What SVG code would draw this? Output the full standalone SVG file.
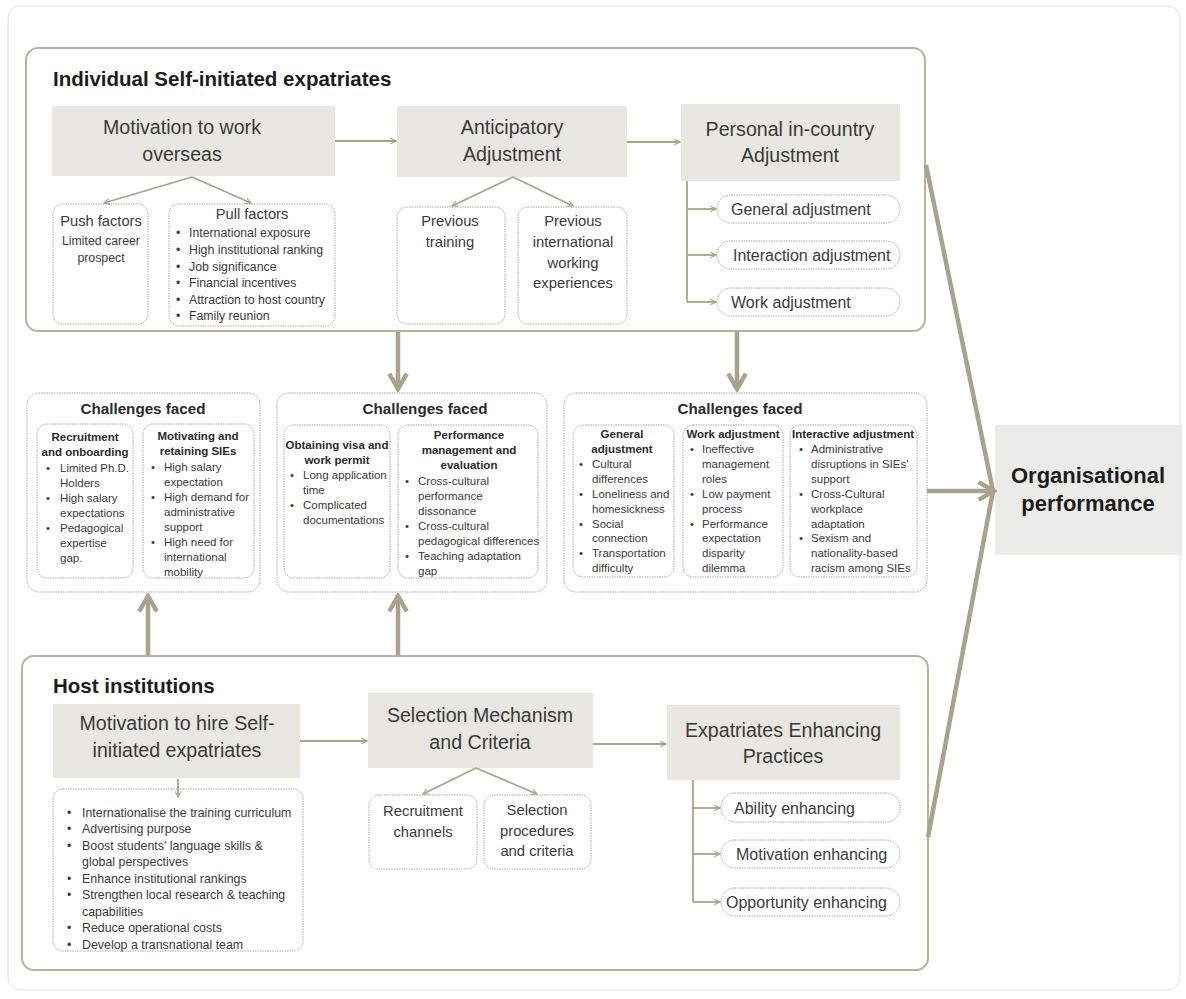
<svg xmlns="http://www.w3.org/2000/svg" width="1186" height="999" viewBox="0 0 1186 999">
<defs>
<marker id="ah" viewBox="0 0 10 10" refX="9" refY="5" markerWidth="7" markerHeight="7" orient="auto" markerUnits="userSpaceOnUse">
<path d="M1,1 L9,5 L1,9" fill="none" stroke="#a8a48c" stroke-width="1.6"/>
</marker>
<marker id="bh" viewBox="0 0 20 20" refX="17" refY="10" markerWidth="22" markerHeight="22" orient="auto" markerUnits="userSpaceOnUse">
<path d="M3,2 L17,10 L3,18" fill="none" stroke="#a8a48c" stroke-width="4" stroke-linejoin="miter"/>
</marker>
</defs>
<style>
text{font-family:"Liberation Sans",Arial,sans-serif;fill:#3a3a3a}
.ttl{font-size:20.5px;font-weight:bold;fill:#1c1c1c}
.big{font-size:19.6px;text-anchor:middle}
.gb{fill:#e8e7e1;stroke:none}
.cont{fill:#fff;stroke:#b8b49c;stroke-width:2}
.dot{fill:#fff;stroke:#a9a9a9;stroke-width:1;stroke-dasharray:1.5 1}
.sm{font-size:14.8px;text-anchor:middle}
.li{font-size:11.5px}
.li2{font-size:12.3px}
.bl{font-size:11.5px;font-weight:bold;text-anchor:middle;fill:#2a2a2a}
.ch{font-size:15.2px;font-weight:bold;text-anchor:middle;fill:#2a2a2a}
.pill{font-size:16px}
.c{fill:none;stroke:#a8a48c;stroke-width:1.8}
.t{fill:none;stroke:#a8a38a;stroke-width:4.5}
</style>
<rect x="8" y="6" width="1172" height="984" rx="12" fill="#fff" stroke="#e2e2e2" stroke-width="1"/>

<g id="top-container">
<rect class="cont" x="26" y="48" width="899" height="283" rx="12"/>
<text class="ttl" x="53" y="86">Individual Self-initiated expatriates</text>
</g>
<g id="motivation-overseas">
<rect class="gb" x="52" y="106" width="283" height="70"/>
<text class="big" x="182" y="134">Motivation to work</text>
<text class="big" x="182" y="161">overseas</text>
</g>
<g id="push">
<rect class="dot" x="53" y="204" width="95" height="120" rx="10"/>
<text x="101" y="226" style="font-size:14.7px;text-anchor:middle">Push factors</text>
<text x="101" y="245" style="font-size:12.3px;text-anchor:middle">Limited career</text>
<text x="101" y="262" style="font-size:12.3px;text-anchor:middle">prospect</text>
</g>
<g id="pull">
<rect class="dot" x="169" y="204" width="166" height="122" rx="10"/>
<text x="252" y="219" style="font-size:14.7px;text-anchor:middle">Pull factors</text>
<g class="li2">
<text x="176" y="237">•</text><text x="189" y="237">International exposure</text>
<text x="176" y="254">•</text><text x="189" y="254">High institutional ranking</text>
<text x="176" y="271">•</text><text x="189" y="271">Job significance</text>
<text x="176" y="287">•</text><text x="189" y="287">Financial incentives</text>
<text x="176" y="304">•</text><text x="189" y="304">Attraction to host country</text>
<text x="176" y="320">•</text><text x="189" y="320">Family reunion</text>
</g>
</g>
<g id="anticipatory">
<rect class="gb" x="397" y="106" width="230" height="71"/>
<text class="big" x="512" y="134">Anticipatory</text>
<text class="big" x="512" y="161">Adjustment</text>
</g>
<g id="prev-training">
<rect class="dot" x="397" y="207" width="108" height="117" rx="10"/>
<text class="sm" x="450" y="226">Previous</text>
<text class="sm" x="450" y="247">training</text>
</g>
<g id="prev-intl">
<rect class="dot" x="518" y="207" width="109" height="117" rx="10"/>
<text class="sm" x="573" y="226">Previous</text>
<text class="sm" x="573" y="247">international</text>
<text class="sm" x="573" y="268">working</text>
<text class="sm" x="573" y="288">experiences</text>
</g>
<g id="personal">
<rect class="gb" x="681" y="104" width="219" height="77"/>
<text class="big" x="790" y="136">Personal in-country</text>
<text class="big" x="790" y="162">Adjustment</text>
</g>
<g id="general-adj">
<rect class="dot" x="717" y="195" width="183" height="28" rx="14"/>
<text class="pill" x="731" y="215">General adjustment</text>
</g>
<g id="interaction-adj">
<rect class="dot" x="717" y="241" width="183" height="28" rx="14"/>
<text class="pill" x="733" y="261">Interaction adjustment</text>
</g>
<g id="work-adj">
<rect class="dot" x="717" y="288" width="183" height="28" rx="14"/>
<text class="pill" x="731" y="308">Work adjustment</text>
</g>

<g id="challenges-left">
<rect class="dot" x="27" y="393" width="233" height="199" rx="12"/>
<text class="ch" x="143" y="414">Challenges faced</text>
<rect class="dot" x="37" y="424" width="96" height="154" rx="10"/>
<text class="bl" x="85" y="441">Recruitment</text>
<text class="bl" x="85" y="456">and onboarding</text>
<g class="li">
<text x="46" y="472">•</text><text x="60" y="472">Limited Ph.D.</text>
<text x="60" y="487">Holders</text>
<text x="46" y="502">•</text><text x="60" y="502">High salary</text>
<text x="60" y="517">expectations</text>
<text x="46" y="532">•</text><text x="60" y="532">Pedagogical</text>
<text x="60" y="547">expertise</text>
<text x="60" y="562">gap.</text>
</g>
<rect class="dot" x="143" y="424" width="111" height="154" rx="10"/>
<text class="bl" x="198" y="440">Motivating and</text>
<text class="bl" x="198" y="455">retaining SIEs</text>
<g class="li">
<text x="151" y="471">•</text><text x="164" y="471">High salary</text>
<text x="164" y="486">expectation</text>
<text x="151" y="501">•</text><text x="164" y="501">High demand for</text>
<text x="164" y="516">administrative</text>
<text x="164" y="531">support</text>
<text x="151" y="546">•</text><text x="164" y="546">High need for</text>
<text x="164" y="561">international</text>
<text x="164" y="576">mobility</text>
</g>
</g>

<g id="challenges-mid">
<rect class="dot" x="277" y="393" width="270" height="199" rx="12"/>
<text class="ch" x="425" y="414">Challenges faced</text>
<rect class="dot" x="284" y="425" width="106" height="153" rx="10"/>
<text class="bl" x="337" y="449">Obtaining visa and</text>
<text class="bl" x="337" y="464">work permit</text>
<g class="li">
<text x="290" y="479">•</text><text x="303" y="479">Long application</text>
<text x="303" y="494">time</text>
<text x="290" y="509">•</text><text x="303" y="509">Complicated</text>
<text x="303" y="524">documentations</text>
</g>
<rect class="dot" x="398" y="425" width="140" height="153" rx="10"/>
<text class="bl" x="469" y="439">Performance</text>
<text class="bl" x="469" y="454">management and</text>
<text class="bl" x="469" y="469">evaluation</text>
<g class="li">
<text x="405" y="485">•</text><text x="418" y="485">Cross-cultural</text>
<text x="418" y="500">performance</text>
<text x="418" y="515">dissonance</text>
<text x="405" y="530">•</text><text x="418" y="530">Cross-cultural</text>
<text x="418" y="545">pedagogical differences</text>
<text x="405" y="560">•</text><text x="418" y="560">Teaching adaptation</text>
<text x="418" y="575">gap</text>
</g>
</g>

<g id="challenges-right">
<rect class="dot" x="564" y="393" width="363" height="199" rx="12"/>
<text class="ch" x="740" y="414">Challenges faced</text>
<rect class="dot" x="573" y="425" width="101" height="152" rx="10"/>
<text class="bl" x="622" y="438">General</text>
<text class="bl" x="622" y="453">adjustment</text>
<g class="li">
<text x="579" y="468">•</text><text x="592" y="468">Cultural</text>
<text x="592" y="483">differences</text>
<text x="579" y="498">•</text><text x="592" y="498">Loneliness and</text>
<text x="592" y="513">homesickness</text>
<text x="579" y="528">•</text><text x="592" y="528">Social</text>
<text x="592" y="542">connection</text>
<text x="579" y="557">•</text><text x="592" y="557">Transportation</text>
<text x="592" y="572">difficulty</text>
</g>
<rect class="dot" x="683" y="425" width="100" height="152" rx="10"/>
<text class="bl" x="733" y="438">Work adjustment</text>
<g class="li">
<text x="690" y="453">•</text><text x="702" y="453">Ineffective</text>
<text x="702" y="468">management</text>
<text x="702" y="483">roles</text>
<text x="690" y="498">•</text><text x="702" y="498">Low payment</text>
<text x="702" y="513">process</text>
<text x="690" y="528">•</text><text x="702" y="528">Performance</text>
<text x="702" y="542">expectation</text>
<text x="702" y="557">disparity</text>
<text x="702" y="572">dilemma</text>
</g>
<rect class="dot" x="790" y="425" width="127" height="152" rx="10"/>
<text class="bl" x="853" y="438">Interactive adjustment</text>
<g class="li">
<text x="799" y="453">•</text><text x="811" y="453">Administrative</text>
<text x="811" y="468">disruptions in SIEs'</text>
<text x="811" y="483">support</text>
<text x="799" y="498">•</text><text x="811" y="498">Cross-Cultural</text>
<text x="811" y="513">workplace</text>
<text x="811" y="528">adaptation</text>
<text x="799" y="542">•</text><text x="811" y="542">Sexism and</text>
<text x="811" y="557">nationality-based</text>
<text x="811" y="572">racism among SIEs</text>
</g>
</g>

<g id="host-container">
<rect class="cont" x="22" y="656" width="906" height="314" rx="12"/>
<text class="ttl" x="53" y="693">Host institutions</text>
</g>
<g id="motivation-hire">
<rect class="gb" x="53" y="704" width="247" height="74"/>
<text class="big" x="177" y="730">Motivation to hire Self-</text>
<text class="big" x="177" y="757">initiated expatriates</text>
</g>
<g id="hire-list">
<rect class="dot" x="53" y="789" width="250" height="162" rx="10"/>
<g class="li2" style="font-size:12.4px">
<text x="67" y="817">•</text><text x="82" y="817">Internationalise the training curriculum</text>
<text x="67" y="833">•</text><text x="82" y="833">Advertising purpose</text>
<text x="67" y="850">•</text><text x="82" y="850">Boost students' language skills &amp;</text>
<text x="82" y="866">global perspectives</text>
<text x="67" y="883">•</text><text x="82" y="883">Enhance institutional rankings</text>
<text x="67" y="899">•</text><text x="82" y="899">Strengthen local research &amp; teaching</text>
<text x="82" y="916">capabilities</text>
<text x="67" y="932">•</text><text x="82" y="932">Reduce operational costs</text>
<text x="67" y="949">•</text><text x="82" y="949">Develop a transnational team</text>
</g>
</g>
<g id="selection">
<rect class="gb" x="368" y="693" width="225" height="75"/>
<text class="big" x="480" y="722">Selection Mechanism</text>
<text class="big" x="480" y="749">and Criteria</text>
</g>
<g id="recruitment-channels">
<rect class="dot" x="369" y="795" width="108" height="74" rx="10"/>
<text class="sm" x="423" y="816">Recruitment</text>
<text class="sm" x="423" y="837">channels</text>
</g>
<g id="selection-procedures">
<rect class="dot" x="484" y="795" width="107" height="74" rx="10"/>
<text class="sm" x="537" y="815">Selection</text>
<text class="sm" x="537" y="836">procedures</text>
<text class="sm" x="537" y="856">and criteria</text>
</g>
<g id="enhancing">
<rect class="gb" x="667" y="705" width="233" height="75"/>
<text class="big" x="783" y="737">Expatriates Enhancing</text>
<text class="big" x="783" y="763">Practices</text>
</g>
<g id="ability">
<rect class="dot" x="721" y="793" width="179" height="29" rx="14"/>
<text class="pill" x="734" y="814">Ability enhancing</text>
</g>
<g id="motivation-enh">
<rect class="dot" x="721" y="840" width="179" height="28" rx="14"/>
<text class="pill" x="736" y="860">Motivation enhancing</text>
</g>
<g id="opportunity">
<rect class="dot" x="721" y="888" width="179" height="28" rx="14"/>
<text class="pill" x="726" y="908">Opportunity enhancing</text>
</g>

<g id="org-perf">
<rect x="995" y="425" width="187" height="130" fill="#ebebe7"/>
<text x="1088" y="483" style="font-size:22px;font-weight:bold;text-anchor:middle;fill:#1c1c1c">Organisational</text>
<text x="1088" y="511" style="font-size:22px;font-weight:bold;text-anchor:middle;fill:#1c1c1c">performance</text>
</g>

<g id="connectors">
<line class="c" x1="335" y1="141" x2="396" y2="141" marker-end="url(#ah)"/>
<line class="c" x1="627" y1="142" x2="680" y2="142" marker-end="url(#ah)"/>
<line class="c" x1="192" y1="177" x2="104" y2="203" marker-end="url(#ah)"/>
<line class="c" x1="192" y1="177" x2="251" y2="203" marker-end="url(#ah)"/>
<line class="c" x1="513" y1="177" x2="452" y2="206" marker-end="url(#ah)"/>
<line class="c" x1="513" y1="177" x2="573" y2="206" marker-end="url(#ah)"/>
<polyline class="c" points="687,181 687,302"/>
<line class="c" x1="687" y1="209" x2="716" y2="209" marker-end="url(#ah)"/>
<line class="c" x1="687" y1="255" x2="716" y2="255" marker-end="url(#ah)"/>
<line class="c" x1="687" y1="302" x2="716" y2="302" marker-end="url(#ah)"/>

<line class="t" x1="398" y1="332" x2="398" y2="389" marker-end="url(#bh)"/>
<line class="t" x1="737" y1="332" x2="737" y2="389" marker-end="url(#bh)"/>
<line class="t" x1="148" y1="655" x2="148" y2="596" marker-end="url(#bh)"/>
<line class="t" x1="398" y1="655" x2="398" y2="596" marker-end="url(#bh)"/>

<line class="c" x1="300" y1="741" x2="367" y2="741" marker-end="url(#ah)"/>
<line class="c" x1="593" y1="744" x2="666" y2="744" marker-end="url(#ah)"/>
<line class="c" x1="178" y1="779" x2="178" y2="797" marker-end="url(#ah)"/>
<line class="c" x1="476" y1="768" x2="423" y2="794" marker-end="url(#ah)"/>
<line class="c" x1="476" y1="768" x2="537" y2="794" marker-end="url(#ah)"/>
<polyline class="c" points="693,780 693,902"/>
<line class="c" x1="693" y1="808" x2="720" y2="808" marker-end="url(#ah)"/>
<line class="c" x1="693" y1="854" x2="720" y2="854" marker-end="url(#ah)"/>
<line class="c" x1="693" y1="902" x2="720" y2="902" marker-end="url(#ah)"/>

<line class="t" x1="926" y1="165" x2="993" y2="491"/>
<line class="t" x1="928" y1="837" x2="993" y2="491"/>
<line class="t" x1="927" y1="491" x2="994" y2="491" marker-end="url(#bh)"/>
</g>
</svg>
